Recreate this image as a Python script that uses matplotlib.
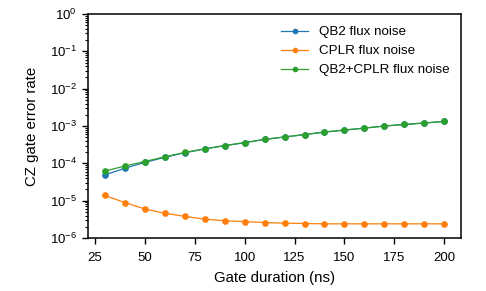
import matplotlib
matplotlib.use('Agg')
from matplotlib import pyplot as plt

plt.rcParams['font.family'] = ['Liberation Sans', 'DejaVu Sans']
plt.rcParams['mathtext.fontset'] = 'custom'
plt.rcParams['mathtext.rm'] = 'Liberation Sans'

durations = [30, 40, 50, 60, 70, 80, 90, 100, 110, 120, 130, 140, 150, 160, 170, 180, 190, 200]
qb2_noise = [4.9e-5, 7.4e-5, 1.06e-4, 1.45e-4, 1.92e-4, 2.42e-4, 2.97e-4, 3.57e-4, 4.37e-4, 5.07e-4,
             5.87e-4, 6.87e-4, 7.77e-4, 8.77e-4, 9.97e-4, 1.10e-3, 1.20e-3, 1.33e-3]
cplr_noise = [1.38e-5, 8.9e-6, 6.0e-6, 4.6e-6, 3.8e-6, 3.2e-6, 2.9e-6, 2.75e-6, 2.6e-6, 2.5e-6,
              2.45e-6, 2.4e-6, 2.4e-6, 2.4e-6, 2.4e-6, 2.4e-6, 2.4e-6, 2.4e-6]
both_noise = [6.2e-5, 8.5e-5, 1.12e-4, 1.5e-4, 1.96e-4, 2.45e-4, 3.0e-4, 3.6e-4, 4.4e-4, 5.1e-4,
              5.9e-4, 6.9e-4, 7.8e-4, 8.8e-4, 1.0e-3, 1.1e-3, 1.2e-3, 1.33e-3]

fig, ax = plt.subplots(figsize=(4.86, 2.91), dpi=100)
fig.subplots_adjust(left=0.181, right=0.949, top=0.952, bottom=0.182)

ax.plot(durations, qb2_noise, marker='o', ms=3.8, lw=0.9, color='#1f77b4', label='QB2 flux noise')
ax.plot(durations, cplr_noise, marker='o', ms=3.8, lw=0.9, color='#ff7f0e', label='CPLR flux noise')
ax.plot(durations, both_noise, marker='o', ms=3.8, lw=0.9, color='#2ca02c', label='QB2+CPLR flux noise')

ax.set_yscale('log')
ax.set_ylim(1e-6, 1)
ax.set_xticks([25, 50, 75, 100, 125, 150, 175, 200])
ax.tick_params(labelsize=9.5, width=1, length=4.3)
ax.tick_params(axis='x', pad=5.5)
ax.tick_params(which='minor', width=0.8, length=2.2)
for s in ax.spines.values():
    s.set_linewidth(1.1)
ax.set_xlabel('Gate duration (ns)', fontsize=10.8, labelpad=5)
ax.set_ylabel('CZ gate error rate', fontsize=10.8, labelpad=8)
ax.legend(frameon=False, fontsize=9.6, loc='upper right', markerscale=0.8)

fig.savefig('out.png', dpi=100)
